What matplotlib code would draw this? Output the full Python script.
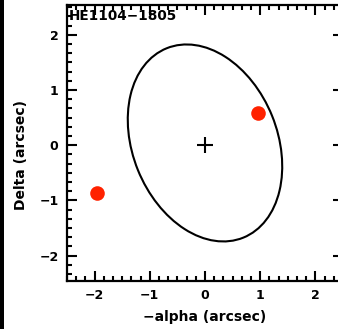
import numpy as np
import matplotlib.pyplot as plt
from matplotlib.patches import Ellipse, Rectangle
from matplotlib.ticker import MultipleLocator

# lens field: quasar images, galaxy position and error ellipse
title = "HE1104\u22121805"
image_x = [0.96, -1.95]
image_y = [0.58, -0.87]
galaxy_x = [0.0]
galaxy_y = [0.0]
ell_center = (0.0, 0.04)
ell_major = 1.85
ell_minor = 1.31
ell_angle = 112.0

fig = plt.figure(figsize=(3.38, 3.29), dpi=100)
ax = fig.add_axes([0.198, 0.146, 0.817, 0.839])

ax.add_patch(Ellipse(ell_center, 2 * ell_major, 2 * ell_minor, angle=ell_angle,
                     fill=False, ec='black', lw=1.5))
ax.plot(galaxy_x, galaxy_y, '+', color='black', ms=12, mew=1.5)
ax.plot(image_x, image_y, 'o', color='#ff2200', ms=10.5, mec='none', zorder=5)

ax.set_xlim(-2.5, 2.5)
ax.set_ylim(-2.46, 2.54)
ax.set_aspect('auto')

for a in (ax.xaxis, ax.yaxis):
    a.set_major_locator(MultipleLocator(1))
    a.set_minor_locator(MultipleLocator(1 / 6))
ax.tick_params(which='both', direction='in', top=True, right=True, width=1.5)
ax.tick_params(which='major', length=7.5, pad=6, labelsize=9)
ax.tick_params(which='minor', length=3.5)
for lab in ax.get_xticklabels() + ax.get_yticklabels():
    lab.set_fontweight('bold')
for s in ax.spines.values():
    s.set_linewidth(1.6)

ax.text(0.008, 0.985, title, transform=ax.transAxes, ha='left', va='top',
        fontsize=9.8, fontweight='bold')
ax.set_xlabel("\u2212alpha (arcsec)", fontsize=10, fontweight='bold')
ax.set_ylabel("Delta (arcsec)", fontsize=10, fontweight='bold')
ax.xaxis.set_label_coords(0.5, -0.105)
ax.yaxis.set_label_coords(-0.14, 0.457)

# dark strip on the left border
fig.add_artist(Rectangle((0, 0), 4 / 338, 1, transform=fig.transFigure,
                         color='black', lw=0))

fig.savefig('out.png', dpi=100)
